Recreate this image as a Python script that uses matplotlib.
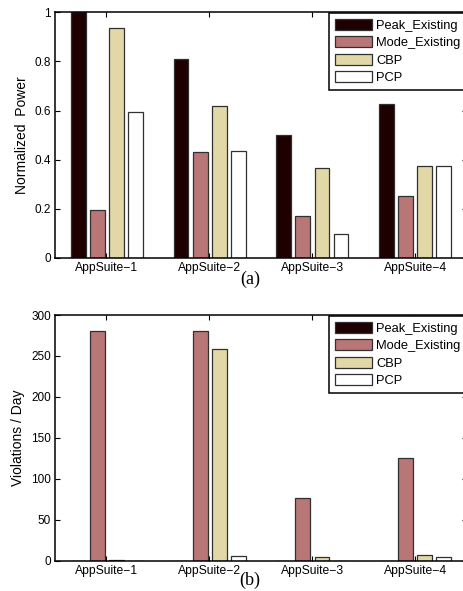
import numpy as np
import matplotlib
matplotlib.use("Agg")
import matplotlib.pyplot as plt


# Values
suites = ['AppSuite\u22121', 'AppSuite\u22122', 'AppSuite\u22123', 'AppSuite\u22124']
series = ['Peak_Existing', 'Mode_Existing', 'CBP', 'PCP']

power_peak = [1.0, 0.81, 0.50, 0.625]
power_mode = [0.195, 0.43, 0.17, 0.25]
power_cbp = [0.935, 0.62, 0.365, 0.375]
power_pcp = [0.595, 0.435, 0.095, 0.375]

viol_peak = [0, 0, 0, 0]
viol_mode = [281, 281, 77, 125]
viol_cbp = [0.5, 258, 4, 7]
viol_pcp = [0, 6, 0, 5]

colors = ['#1e0000', '#b97676', '#e2d7a7', '#ffffff']

plt.rcParams['font.family'] = ['Liberation Sans', 'DejaVu Sans']

fig = plt.figure(figsize=(4.64, 5.91), dpi=100)
ax1 = fig.add_axes([0.1185, 0.564, 0.887, 0.415])
ax2 = fig.add_axes([0.1185, 0.0513, 0.887, 0.4157])

x = np.arange(1, 5)
offsets = [-0.275, -0.09, 0.095, 0.28]
width = 0.145


def draw(ax, data, ylabel, ymax, yticks, ytlabels):
    for k in range(4):
        ax.bar(x + offsets[k], data[k], width, color=colors[k],
               edgecolor='#303030', linewidth=0.9, label=series[k])
    ax.set_xlim(0.5, 4.5)
    ax.set_ylim(0, ymax)
    ax.set_xticks(x)
    ax.set_xticklabels(suites, fontsize=8.7)
    ax.set_yticks(yticks)
    ax.set_yticklabels(ytlabels, fontsize=8.5)
    ax.tick_params(direction='in', length=3.5, width=0.8, top=True, right=True, pad=3)
    ax.set_ylabel(ylabel, fontsize=10)
    for s in ax.spines.values():
        s.set_linewidth(1.1)


draw(ax1, [power_peak, power_mode, power_cbp, power_pcp], 'Normalized  Power', 1.0,
     [0, 0.2, 0.4, 0.6, 0.8, 1.0], ['0', '0.2', '0.4', '0.6', '0.8', '1'])
draw(ax2, [viol_peak, viol_mode, viol_cbp, viol_pcp], 'Violations / Day', 300,
     [0, 50, 100, 150, 200, 250, 300], ['0', '50', '100', '150', '200', '250', '300'])

for ax, top in [(ax1, 1 - 12.5 / 591), (ax2, 1 - 315.5 / 591)]:
    leg = ax.legend(loc='upper left', bbox_to_anchor=(329 / 464, top),
                    bbox_transform=fig.transFigure, borderaxespad=0,
                    fontsize=9.3, handlelength=2.85, handleheight=0.95,
                    handletextpad=0.3, labelspacing=0.33, borderpad=0.5,
                    fancybox=False, framealpha=1)
    leg.get_frame().set_edgecolor('black')
    leg.get_frame().set_linewidth(1.1)

fig.text(250 / 464, 1 - 279 / 591, '(a)', ha='center', va='center',
         fontsize=13, family='Liberation Serif')
fig.text(250 / 464, 1 - 580 / 591, '(b)', ha='center', va='center',
         fontsize=13, family='Liberation Serif')

fig.savefig('out.png', dpi=100)
